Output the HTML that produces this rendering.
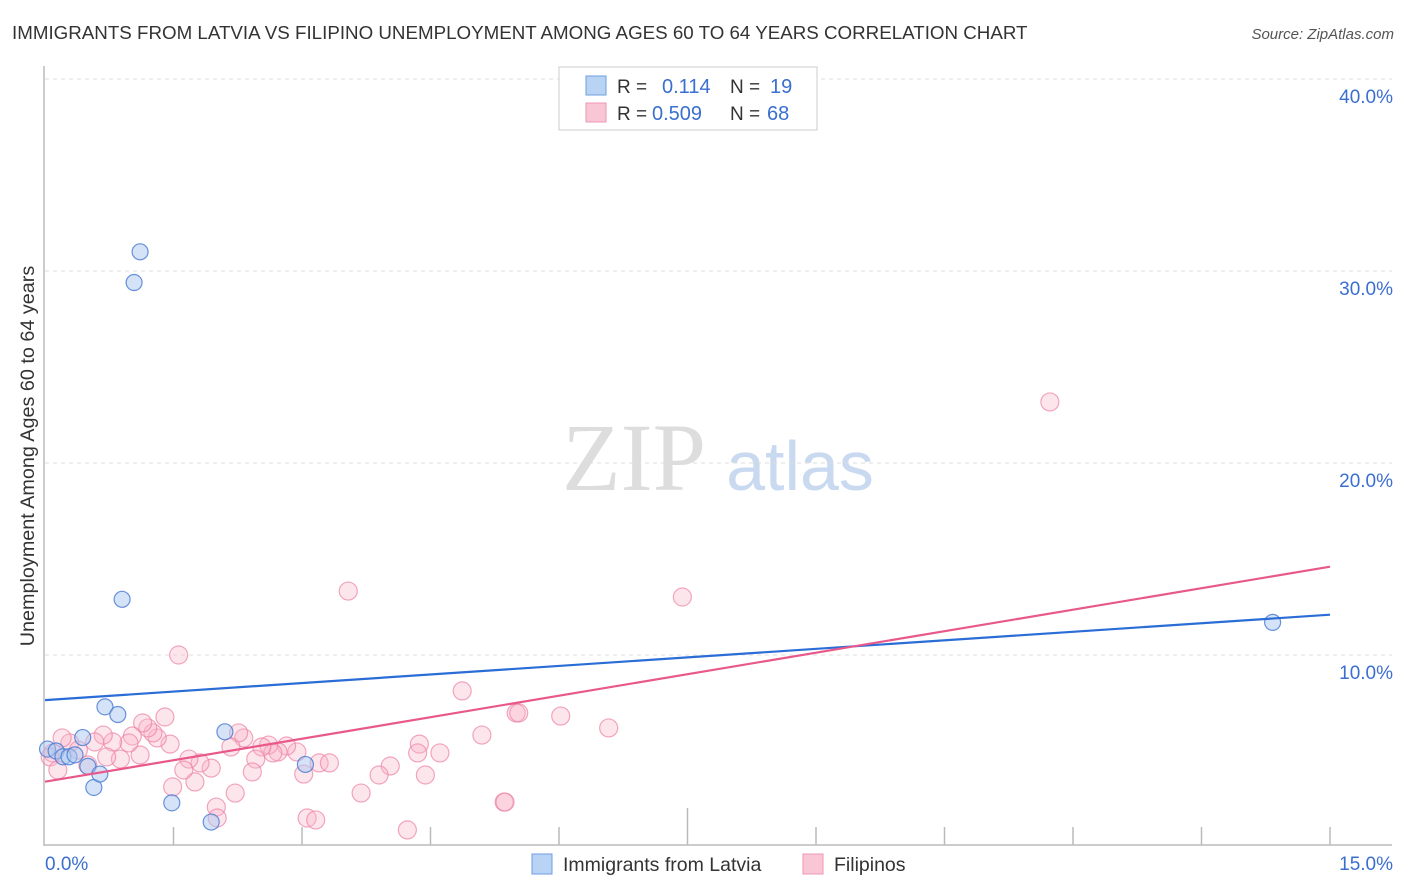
<!DOCTYPE html>
<html><head><meta charset="utf-8"><style>
body{margin:0;background:#fff;font-family:"Liberation Sans",sans-serif}
svg{display:block}
</style></head><body>
<svg id="c" width="1406" height="892">
<text x="12" y="39" font-size="18.75" fill="#333">IMMIGRANTS FROM LATVIA VS FILIPINO UNEMPLOYMENT AMONG AGES 60 TO 64 YEARS CORRELATION CHART</text>
<text x="1394" y="39" font-size="15" fill="#555" font-style="italic" text-anchor="end">Source: ZipAtlas.com</text>
<text transform="translate(34,456) rotate(-90)" font-size="19.8" fill="#333" text-anchor="middle">Unemployment Among Ages 60 to 64 years</text>
<g><text x="634" y="490" font-size="96" fill="#ddd" font-family="Liberation Serif,serif" text-anchor="middle">ZIP</text><text x="800" y="490" font-size="70" fill="#c9d9f0" text-anchor="middle">atlas</text></g>
<g id="grid"></g><g id="axes"></g><g id="marks"></g>
<g>
<rect x="559" y="67" width="258" height="63" fill="#fff" stroke="#ccc"/>
<rect x="586" y="76" width="20" height="19" fill="#b9d3f5" stroke="#6d9ee0"/>
<rect x="586" y="103" width="20" height="19" fill="#f9c6d6" stroke="#ee98b4"/>
<text x="617" y="93" font-size="19" fill="#333">R = </text><text x="662" y="93" font-size="20" fill="#3a6fd0">0.114</text>
<text x="730" y="93" font-size="19" fill="#333">N = </text><text x="770" y="93" font-size="20" fill="#3a6fd0">19</text>
<text x="617" y="120" font-size="19" fill="#333">R = </text><text x="652" y="120" font-size="20" fill="#3a6fd0">0.509</text>
<text x="730" y="120" font-size="19" fill="#333">N = </text><text x="767" y="120" font-size="20" fill="#3a6fd0">68</text>
</g>
<g>
<rect x="532" y="854" width="20" height="20" fill="#b9d3f5" stroke="#6d9ee0"/>
<text x="563" y="871" font-size="19.5" fill="#333">Immigrants from Latvia</text>
<rect x="803" y="854" width="20" height="20" fill="#f9c6d6" stroke="#ee98b4"/>
<text x="834" y="871" font-size="19.5" fill="#333">Filipinos</text>
</g>
</svg>
<script>
const yTicks=[10,20,30,40];
const yTickLabels=["10.0%","20.0%","30.0%","40.0%"];
const xTickVals=[1.5,3,4.5,6,7.5,9,10.5,12,13.5,15];
const latviaX=[0.03,0.13,0.21,0.28,0.35,0.44,0.5,0.57,0.64,0.7,0.85,0.9,1.04,1.11,1.48,1.94,2.1,3.04,14.33];
const latviaY=[5.1,5.0,4.7,4.7,4.8,5.7,4.2,3.1,3.8,7.3,6.9,12.9,29.4,31.0,2.3,1.3,6.0,4.3,11.7];
const filX=[3.54,1.56,4.87,5.50,5.10,4.37,4.35,4.61,4.44,4.03,3.90,3.69,4.23,5.36,3.06,3.16,3.20,3.32,3.02,2.94,2.82,2.72,2.61,2.66,2.53,2.46,2.42,2.32,2.26,2.17,2.22,2.00,2.01,1.75,1.94,1.81,1.68,1.62,1.49,1.46,1.40,1.31,1.26,1.20,1.14,1.11,1.02,0.98,0.88,0.79,0.68,0.72,0.58,0.50,0.29,0.20,0.09,0.06,0.15,0.39,7.44,5.53,6.02,6.58,5.37,11.73];
const filY=[13.33,10.0,8.13,6.98,5.83,5.36,4.9,4.9,3.75,4.22,3.75,2.81,0.89,2.34,1.51,1.41,4.38,4.38,3.80,4.95,5.26,4.95,5.31,4.9,5.21,4.58,3.91,5.68,5.94,5.21,2.81,2.08,1.51,3.39,4.11,4.38,4.58,4.01,3.13,5.36,6.77,5.68,5.94,6.2,6.46,4.79,5.78,5.42,4.58,5.47,5.83,4.69,5.47,4.27,5.42,5.68,4.9,4.69,4.01,5.05,13.02,6.98,6.82,6.2,2.34,23.18];
const trendX=[0,15];
const latviaTrend=[7.65,12.1];
const filTrend=[3.4,14.6];
function sx(v){return 45+v/15*1285}
function sy(v){return 847-v*19.2}
const NS="http://www.w3.org/2000/svg";
function mk(t,a,p){const e=document.createElementNS(NS,t);for(const k in a)e.setAttribute(k,a[k]);p.appendChild(e);return e}
const grid=document.getElementById('grid'),axes=document.getElementById('axes'),marks=document.getElementById('marks');
yTicks.forEach((v,i)=>{
 const l=mk('line',{x1:45,x2:1392,y1:sy(v),y2:sy(v),stroke:'#ddd','stroke-dasharray':'4,4'},grid);
 
 
 const t=mk('text',{x:1393,y:sy(v)+24,'font-size':19,fill:'#3a6fd0','text-anchor':'end'},axes);
 t.textContent=yTickLabels[i];
 
 
});
const topLine=mk('line',{x1:45,x2:1392,y1:79,y2:79,stroke:'#ddd','stroke-dasharray':'4,4'},grid);


const ya=mk('line',{x1:44,x2:44,y1:66,y2:846,stroke:'#bbb','stroke-width':1.5},axes);


const xa=mk('line',{x1:44,x2:1392,y1:845,y2:845,stroke:'#bbb','stroke-width':1.5},axes);


xTickVals.forEach(v=>{
 const t=mk('line',{x1:sx(v),x2:sx(v),y1:(v==7.5?808:827),y2:845,stroke:'#bbb','stroke-width':1.5},axes);
 
 
});
[["0.0%",45,'start'],["15.0%",1393,'end']].forEach(d=>{
 const t=mk('text',{x:d[1],y:870,'font-size':19,fill:'#3a6fd0','text-anchor':d[2]},axes);
 t.textContent=d[0];
 
 
});
filX.forEach((x,i)=>{
 const c=mk('circle',{cx:sx(x),cy:sy(filY[i]),r:9,fill:'rgba(248,180,200,0.35)',stroke:'rgba(236,130,165,0.7)','stroke-width':1.2},marks);
 
 
});
latviaX.forEach((x,i)=>{
 const c=mk('circle',{cx:sx(x),cy:sy(latviaY[i]),r:8,fill:'rgba(170,200,240,0.5)',stroke:'rgba(70,120,210,0.8)','stroke-width':1.2},marks);
 
 
});
const bl=mk('line',{x1:sx(trendX[0]),x2:sx(trendX[1]),y1:sy(latviaTrend[0]),y2:sy(latviaTrend[1]),stroke:'#2a6dd6','stroke-width':2.2},marks);


const pl=mk('line',{x1:sx(trendX[0]),x2:sx(trendX[1]),y1:sy(filTrend[0]),y2:sy(filTrend[1]),stroke:'#e8588a','stroke-width':2.2},marks);


</script>
</body></html>
